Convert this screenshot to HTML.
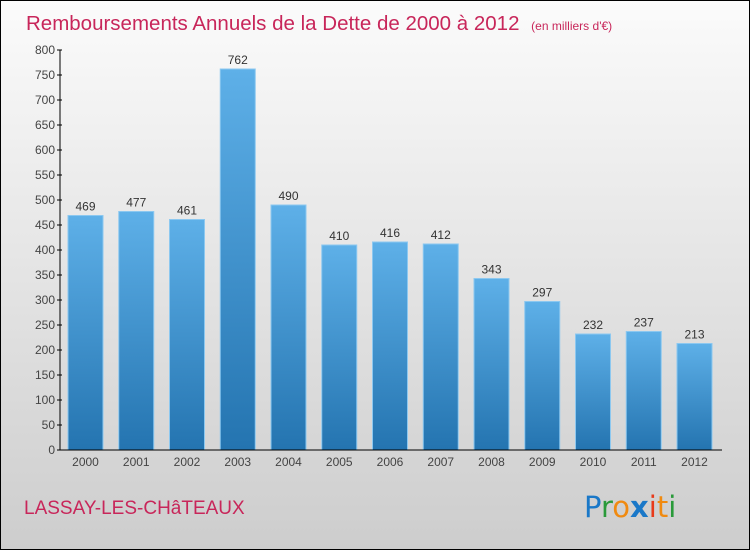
<!DOCTYPE html>
<html><head><meta charset="utf-8"><style>
html,body{margin:0;padding:0}
body{width:750px;height:550px;overflow:hidden;font-family:"Liberation Sans",sans-serif}
#wrap{position:absolute;left:0;top:0;width:748px;height:548px;border:1px solid #000;background:linear-gradient(#fbfbfb,#cdcdcd)}
</style></head><body>
<div id="wrap">
<svg width="750" height="550" style="position:absolute;left:-1px;top:-1px">
<defs><linearGradient id="bg" x1="0" y1="0" x2="0" y2="1"><stop offset="0" stop-color="#5eb0e8"/><stop offset="1" stop-color="#2474b0"/></linearGradient></defs>
<text x="26" y="30" font-size="20.5" fill="#c8265a">Remboursements Annuels de la Dette de 2000 à 2012 <tspan font-size="12" dx="6">(en milliers d'€)</tspan></text>
<g id="yaxis"></g>
<g id="bars"></g>
<g id="xaxis"></g>
<text x="24" y="514" font-size="19" fill="#c8265a">LASSAY-LES-CHâTEAUX</text>
<g font-size="29" font-family="DejaVu Sans,sans-serif">
<text x="584" y="517"><tspan fill="#1a78c8">P</tspan><tspan fill="#2a9a3a">r</tspan><tspan fill="#f08a10">o</tspan><tspan fill="#1a78c8" font-weight="bold">x</tspan><tspan fill="#e83a1a">i</tspan><tspan fill="#f08a10">t</tspan><tspan fill="#2a9a3a">i</tspan></text>
</g>
</svg></div>
<script>
const years=["2000","2001","2002","2003","2004","2005","2006","2007","2008","2009","2010","2011","2012"];
const values=[469,477,461,762,490,410,416,412,343,297,232,237,213];
const yTicks=[0,50,100,150,200,250,300,350,400,450,500,550,600,650,700,750,800];
const NS="http://www.w3.org/2000/svg";
const y=v=>450-v*0.5;
const xc=i=>85.5+i*50.75;
function mk(t,a,p,txt){const e=document.createElementNS(NS,t);for(const k in a)e.setAttribute(k,a[k]);if(txt!=null)e.textContent=txt;p.appendChild(e);return e;}
const ya=document.getElementById('yaxis'),bs=document.getElementById('bars'),xa=document.getElementById('xaxis');
mk('line',{x1:60,y1:50,x2:60,y2:450,stroke:'#000','stroke-width':1},ya);
yTicks.forEach(t=>{
 const l=mk('line',{x1:57,x2:62,y1:y(t),y2:y(t),stroke:'#000'},ya);
 
 
 const tx=mk('text',{x:55,y:y(t)+4,'text-anchor':'end','font-size':12,fill:'#444'},ya,t);
 
 
});
mk('line',{x1:60,y1:450,x2:722,y2:450,stroke:'#000'},xa);
values.forEach((v,i)=>{
 const r=mk('rect',{x:xc(i)-17.5,y:y(v),width:35,height:450-y(v),fill:'url(#bg)',stroke:'#8cc8f0','stroke-width':1},bs);
 
 
 const t=mk('text',{x:xc(i),y:y(v)-5,'text-anchor':'middle','font-size':12,fill:'#333'},bs,v);
 
 
 const l=mk('text',{x:xc(i),y:466,'text-anchor':'middle','font-size':12,fill:'#444'},xa,years[i]);
 
 
});
</script>
</body></html>
